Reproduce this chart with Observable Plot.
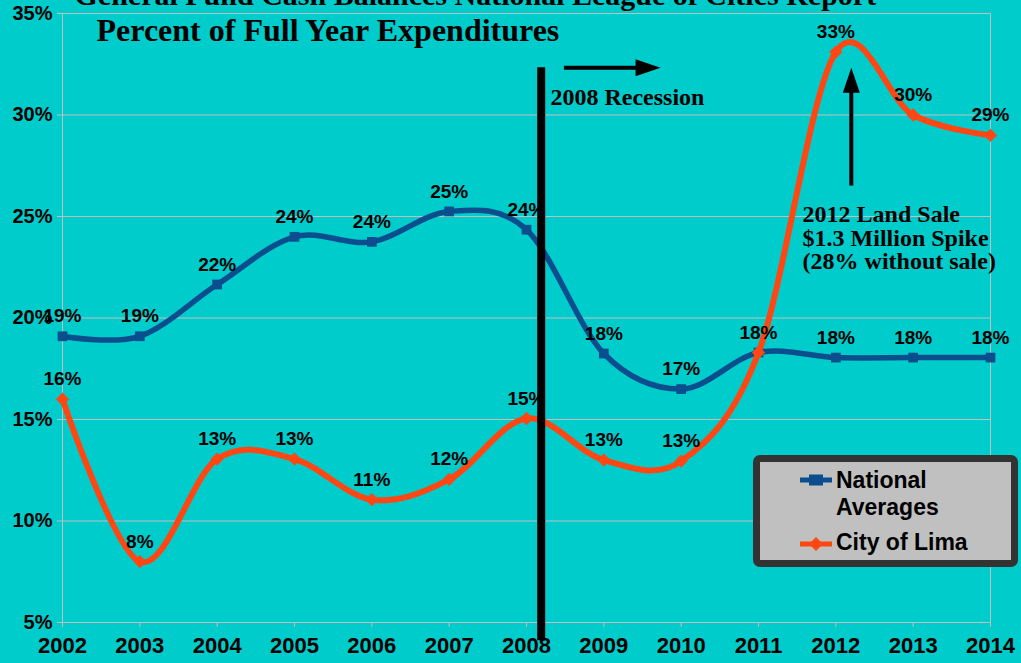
<!DOCTYPE html>
<html>
<head>
<meta charset="utf-8">
<script src="https://cdn.jsdelivr.net/npm/d3@7"></script>
<script src="https://cdn.jsdelivr.net/npm/@observablehq/plot@0.6"></script>
<style>
  html, body { margin: 0; padding: 0; background: #00CCCC; overflow: hidden; }
  #wrap { position: relative; width: 1021px; height: 663px; }
  #legend {
    position: absolute; left: 753px; top: 455px; width: 265px; height: 112px;
    box-sizing: border-box; border: 7px solid #333333; border-radius: 7px;
    background: #C0C0C0; font-family: "Liberation Sans", Arial, sans-serif;
    font-weight: bold; font-size: 23px; color: #000;
  }
  .lg-text { position: absolute; left: 76px; line-height: 27px; white-space: nowrap; }
  .lg-sw { position: absolute; left: 40px; }
</style>
</head>
<body>
<div id="wrap">
  <div id="chart"></div>
  <div id="legend"></div>
</div>
<script>
// ---- data ----
const years = [2002, 2003, 2004, 2005, 2006, 2007, 2008, 2009, 2010, 2011, 2012, 2013, 2014];
const national = [19.1, 19.1, 21.65, 24.0, 23.75, 25.25, 24.35, 18.25, 16.5, 18.3, 18.05, 18.05, 18.05];
const lima = [16.0, 8.0, 13.05, 13.05, 11.05, 12.05, 15.05, 13.0, 12.95, 18.3, 33.1, 30.0, 29.0];
const yTicks = [5, 10, 15, 20, 25, 30, 35];
const seriesNames = ["National Averages", "City of Lima"];
const seriesColors = ["#0B4E8E", "#FF4713"];
const titleLines = ["General Fund Cash Balances National League of Cities Report", "Percent of Full Year Expenditures"];
const recessionLabel = "2008 Recession";
const landSaleLabel = "2012 Land Sale\n$1.3 Million Spike\n(28% without sale)";
const recessionYear = 2008.19;
const landSaleYear = 2012.2;

const natData = years.map((year, i) => ({year, value: national[i]}));
const limaData = years.map((year, i) => ({year, value: lima[i]}));
const pct = d => Math.round(d.value) + "%";
// Lima's 2011 label sits exactly under the national one; show it once
const limaLabels = limaData.filter((d, i) => pct(d) !== pct(natData[i]));

const headUp = { draw(ctx) { ctx.moveTo(0, -25); ctx.lineTo(8.5, 0); ctx.lineTo(-8.5, 0); ctx.closePath(); } };
const headRight = { draw(ctx) { ctx.moveTo(25, 0); ctx.lineTo(0, 8.5); ctx.lineTo(0, -8.5); ctx.closePath(); } };

const serif = "'Liberation Serif', 'Times New Roman', serif";
const grid = "#BFBFBF";

const chart = Plot.plot({
  width: 1021,
  height: 663,
  marginLeft: 62,
  marginRight: 31,
  marginTop: 13,
  marginBottom: 41,
  style: {background: "#00CCCC", fontFamily: "'Liberation Sans', Arial, sans-serif", fontWeight: "bold", overflow: "visible", color: "black"},
  x: {domain: [2002, 2014], label: null},
  y: {domain: [5, 35], label: null},
  marks: [
    Plot.ruleY(yTicks, {stroke: grid, strokeWidth: 1}),
    Plot.frame({stroke: grid}),
    Plot.ruleX(years, {y1: 5, y2: 4.754, stroke: grid}),
    Plot.ruleY(yTicks, {x1: 2002, x2: 2002 - 5 / 77.33, stroke: grid}),
    Plot.axisX({ticks: years, tickFormat: d => String(d), tickSize: 0, tickPadding: 15, fontSize: 22, fontWeight: "bold", fill: "black", label: null}),
    Plot.axisY({ticks: yTicks, tickFormat: d => d + "%", tickSize: 0, tickPadding: 10, fontSize: 20, fontWeight: "bold", fill: "black", label: null}),
    Plot.line(natData, {x: "year", y: "value", stroke: seriesColors[0], strokeWidth: 5.5, curve: "cardinal"}),
    Plot.dot(natData, {x: "year", y: "value", symbol: "square", r: 5.5, fill: seriesColors[0]}),
    Plot.line(limaData, {x: "year", y: "value", stroke: seriesColors[1], strokeWidth: 6, curve: "cardinal"}),
    Plot.dot(limaData, {x: "year", y: "value", symbol: "diamond2", r: 6, fill: seriesColors[1]}),
    Plot.text(natData, {x: "year", y: "value", text: pct, dy: -20, fontSize: 19, fontWeight: "bold", fill: "black"}),
    Plot.text(limaLabels, {x: "year", y: "value", text: pct, dy: -20, fontSize: 19, fontWeight: "bold", fill: "black"}),
    // recession line and arrow
    Plot.ruleX([recessionYear], {y1: 4.1, y2: 32.33, stroke: "black", strokeWidth: 8}),
    Plot.ruleY([32.33], {x1: 2008.49, x2: 2009.45, stroke: "black", strokeWidth: 4}),
    Plot.dot([0], {x: 2009.41, y: 32.33, symbol: headRight, fill: "black", stroke: "none"}),
    Plot.text([recessionLabel], {x: 2008.31, y: 30.85, text: d => d, textAnchor: "start", fontFamily: serif, fontSize: 24, fontWeight: "bold", fill: "black"}),
    // land sale arrow
    Plot.ruleX([landSaleYear], {y1: 26.5, y2: 31.2, stroke: "black", strokeWidth: 4}),
    Plot.dot([0], {x: landSaleYear, y: 31.09, symbol: headUp, fill: "black", stroke: "none"}),
    Plot.text([landSaleLabel], {x: 2011.57, y: 23.95, text: d => d, textAnchor: "start", lineHeight: 1.0, fontFamily: serif, fontSize: 24, fontWeight: "bold", fill: "black"}),
    // titles
    Plot.text([titleLines[0]], {x: 2002.155, y: 35.87, text: d => d, textAnchor: "start", fontFamily: serif, fontSize: 30, fontWeight: "bold", fill: "black"}),
    Plot.text([titleLines[1]], {x: 2002.44, y: 34.15, text: d => d, textAnchor: "start", fontFamily: serif, fontSize: 32, fontWeight: "bold", fill: "black"})
  ]
});
document.getElementById("chart").appendChild(chart);

// ---- legend ----
const legend = document.getElementById("legend");
function swatch(color, symbol, top) {
  const ns = "http://www.w3.org/2000/svg";
  const svg = document.createElementNS(ns, "svg");
  svg.setAttribute("width", 32); svg.setAttribute("height", 16);
  svg.setAttribute("class", "lg-sw");
  svg.style.top = top + "px";
  const line = document.createElementNS(ns, "line");
  line.setAttribute("x1", 0); line.setAttribute("x2", 32); line.setAttribute("y1", 8); line.setAttribute("y2", 8);
  line.setAttribute("stroke", color); line.setAttribute("stroke-width", 5);
  svg.appendChild(line);
  const p = document.createElementNS(ns, "path");
  p.setAttribute("d", symbol === "square" ? "M9,2.5H23V13.5H9Z" : "M16,1L23,8L16,15L9,8Z");
  p.setAttribute("fill", color);
  svg.appendChild(p);
  legend.appendChild(svg);
}
function label(text, top) {
  const d = document.createElement("div");
  d.className = "lg-text"; d.style.top = top + "px";
  d.innerHTML = text;
  legend.appendChild(d);
}
swatch(seriesColors[0], "square", 10);
swatch(seriesColors[1], "diamond", 74);
label("National<br>Averages", 4.5);
label(seriesNames[1], 66.5);
</script>
</body>
</html>
